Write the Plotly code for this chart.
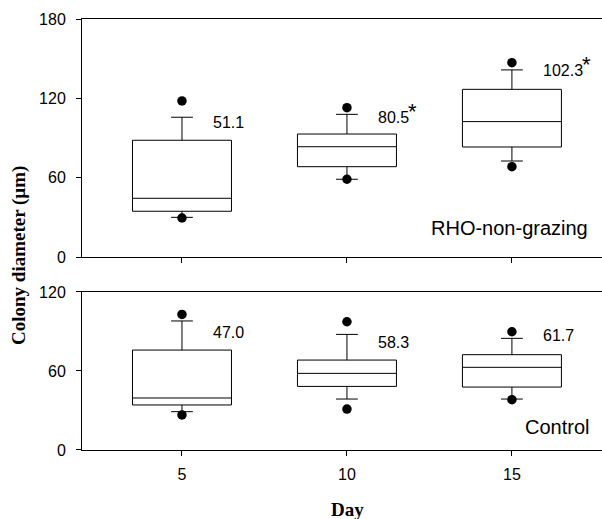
import plotly.graph_objects as go

# Sampling days
days = [5, 10, 15]

# RHO-non-grazing colony diameters (µm): box statistics per day
rho_q1 = [34.6, 68.3, 83.2]
rho_median = [44.4, 83.4, 102.4]
rho_q3 = [88.3, 93.0, 126.8]
rho_whisker_low = [30.0, 58.8, 72.6]
rho_whisker_high = [105.7, 107.9, 141.5]
rho_p5 = [29.5, 58.8, 68.3]
rho_p95 = [118.0, 112.9, 147.0]
rho_mean = [51.1, 80.5, 102.3]
rho_significant = [False, True, True]

# Control colony diameters (µm)
ctrl_q1 = [34.2, 48.3, 47.8]
ctrl_median = [39.5, 58.2, 62.8]
ctrl_q3 = [75.9, 68.3, 72.4]
ctrl_whisker_low = [29.1, 38.7, 38.7]
ctrl_whisker_high = [98.0, 87.8, 84.8]
ctrl_p5 = [26.6, 31.1, 38.2]
ctrl_p95 = [103.0, 97.4, 89.8]
ctrl_mean = [47.0, 58.3, 61.7]
ctrl_significant = [False, False, False]

top_ticks = [0, 60, 120, 180]
bottom_ticks = [0, 60, 120]

# Vertical placement of the mean labels in each panel (data units)
rho_label_y = [101.4, 105.5, 140.7]
ctrl_label_y = [89.6, 82.0, 86.6]

SANS = "Arial, Liberation Sans, sans-serif"
SERIF = "Times New Roman, Liberation Serif, serif"
LABEL_SIZE = 16

fig = go.Figure()


def add_panel(xref, yref, q1, med, q3, lo, hi, p5, p95):
    fig.add_trace(go.Box(
        x=days, q1=q1, median=med, q3=q3, lowerfence=lo, upperfence=hi,
        width=3, whiskerwidth=0.22, boxpoints=False,
        fillcolor="white", line=dict(color="black", width=1),
        xaxis=xref, yaxis=yref, showlegend=False, hoverinfo="skip",
    ))
    fig.add_trace(go.Scatter(
        x=days + days, y=p5 + p95, mode="markers",
        marker=dict(color="black", size=9.5),
        xaxis=xref, yaxis=yref, showlegend=False, hoverinfo="skip",
    ))


add_panel("x", "y", rho_q1, rho_median, rho_q3, rho_whisker_low,
          rho_whisker_high, rho_p5, rho_p95)
add_panel("x2", "y2", ctrl_q1, ctrl_median, ctrl_q3, ctrl_whisker_low,
          ctrl_whisker_high, ctrl_p5, ctrl_p95)

annotations = []


def text_width(s, size):
    # approximate Arial advance widths
    w = {".": 0.278}
    return sum(w.get(c, 0.556) for c in s) * size


def mean_labels(xref, yref, means, ys, sig):
    for d, m, y, s in zip(days, means, ys, sig):
        txt = f"{m:.1f}"
        annotations.append(dict(
            x=d + 0.88, y=y, xref=xref, yref=yref, text=txt,
            showarrow=False, xanchor="left", yanchor="middle",
            font=dict(family=SANS, size=LABEL_SIZE, color="black"),
        ))
        if s:
            annotations.append(dict(
                x=d + 0.88, y=y, xref=xref, yref=yref, text="*",
                showarrow=False, xanchor="left", yanchor="middle",
                xshift=text_width(txt, LABEL_SIZE) - 1, yshift=6,
                font=dict(family=SANS, size=22, color="black"),
            ))


mean_labels("x", "y", rho_mean, rho_label_y, rho_significant)
mean_labels("x2", "y2", ctrl_mean, ctrl_label_y, ctrl_significant)

annotations += [
    dict(x=17.36, y=21.9, xref="x", yref="y", text="RHO-non-grazing",
         showarrow=False, xanchor="right", yanchor="middle",
         font=dict(family=SANS, size=20, color="black")),
    dict(x=17.39, y=17.5, xref="x2", yref="y2", text="Control",
         showarrow=False, xanchor="right", yanchor="middle",
         font=dict(family=SANS, size=20, color="black")),
    dict(x=19, y=256, xref="paper", yref="paper", text="<b>Colony diameter (µm)</b>",
         showarrow=False, textangle=-90, xanchor="center", yanchor="middle",
         font=dict(family=SERIF, size=19, color="black")),
    dict(x=347, y=509, xref="paper", yref="paper", text="<b>Day</b>",
         showarrow=False, xanchor="center", yanchor="middle",
         font=dict(family=SERIF, size=19, color="black")),
]

# convert pixel-placed titles to paper coordinates
W, H = 602, 519
L, R, T, B = 82, 0, 19, 69
for a in annotations:
    if a["xref"] == "paper":
        a["x"] = (a["x"] - L) / (W - L - R)
        a["y"] = (H - B - a["y"]) / (H - T - B)

xrange_ = [1.97, 17.73]
axis_common = dict(showline=True, linecolor="black", linewidth=1,
                   ticks="outside", ticklen=5, tickcolor="black",
                   showgrid=False, zeroline=False,
                   tickfont=dict(family=SANS, size=16, color="black"))

fig.update_layout(
    width=W, height=H,
    margin=dict(l=L, r=R, t=T, b=B),
    paper_bgcolor="white", plot_bgcolor="white",
    showlegend=False,
    xaxis=dict(domain=[0, 1], anchor="y", range=xrange_, tickvals=days,
               showticklabels=False, mirror=True, **axis_common),
    yaxis=dict(domain=[0.4478, 1], anchor="x", range=[0, 180],
               tickvals=top_ticks, ticklabelstandoff=7, **axis_common),
    xaxis2=dict(domain=[0, 1], anchor="y2", range=xrange_, tickvals=days,
                mirror=True, ticklabelstandoff=5, **axis_common),
    yaxis2=dict(domain=[0, 0.3666], anchor="x2", range=[0, 120],
                tickvals=bottom_ticks, ticklabelstandoff=7, **axis_common),
    annotations=annotations,
)

fig.write_html("out.html")
